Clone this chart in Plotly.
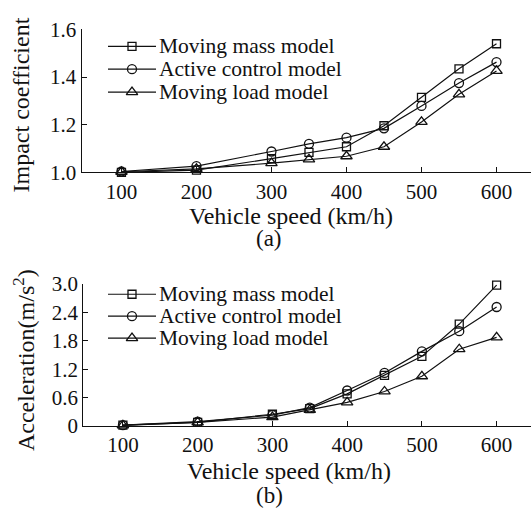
import plotly.graph_objects as go

W, H = 531, 516

# ---- data -------------------------------------------------------------
speed = [100, 200, 300, 350, 400, 450, 500, 550, 600]

impact_mass = [1.000, 1.010, 1.058, 1.084, 1.108, 1.196, 1.315, 1.435, 1.540]
impact_active = [1.004, 1.027, 1.088, 1.120, 1.146, 1.185, 1.279, 1.375, 1.463]
impact_load = [1.003, 1.015, 1.039, 1.055, 1.068, 1.108, 1.212, 1.328, 1.426]

accel_mass = [0.02, 0.08, 0.25, 0.37, 0.68, 1.07, 1.47, 2.15, 2.97]
accel_active = [0.02, 0.095, 0.23, 0.39, 0.75, 1.12, 1.575, 2.00, 2.51]
accel_load = [0.015, 0.08, 0.19, 0.34, 0.50, 0.73, 1.05, 1.62, 1.87]

series_names = ["Moving mass model", "Active control model", "Moving load model"]
symbols = ["square-open", "circle-open", "triangle-up-open"]
sizes = [8, 9, 10]

x_ticks = [100, 200, 300, 400, 500, 600]
impact_ticks = [1.0, 1.2, 1.4, 1.6]
impact_ticklabels = ["1.0", "1.2", "1.4", "1.6"]
accel_ticks = [0, 0.6, 1.2, 1.8, 2.4, 3.0]
accel_ticklabels = ["0", "0.6", "1.2", "1.8", "2.4", "3.0"]

FONT = "Liberation Serif"
INK = "#111111"


def px_x(p):
    return p / W


def px_y(p):
    return 1 - p / H


fig = go.Figure()

panels = [
    ("x", "y", [impact_mass, impact_active, impact_load]),
    ("x2", "y2", [accel_mass, accel_active, accel_load]),
]
for xa, ya, group in panels:
    for vals, name, sym, sz in zip(group, series_names, symbols, sizes):
        fig.add_trace(go.Scatter(
            x=speed, y=vals, name=name, xaxis=xa, yaxis=ya,
            mode="lines+markers", showlegend=False, cliponaxis=False,
            line=dict(color=INK, width=1.2),
            marker=dict(symbol=sym, size=sz, color=INK,
                        line=dict(color=INK, width=1.3)),
        ))

# legend keys, drawn on a full-page pixel-space axis pair
legend_rows = [[36, 60, 84], [296, 319, 342]]
for rows in legend_rows:
    for yy, name, sym, sz in zip(rows, series_names, symbols, sizes):
        fig.add_trace(go.Scatter(
            x=[108, 156], y=[yy, yy], xaxis="x3", yaxis="y3", mode="lines",
            showlegend=False, hoverinfo="skip",
            line=dict(color=INK, width=1.2),
        ))
        fig.add_trace(go.Scatter(
            x=[132], y=[yy], xaxis="x3", yaxis="y3", mode="markers",
            showlegend=False, hoverinfo="skip",
            marker=dict(symbol=sym, size=sz, color=INK,
                        line=dict(color=INK, width=1.3)),
        ))
        fig.add_annotation(
            x=px_x(157), y=px_y(yy), xref="paper", yref="paper",
            text=name, showarrow=False, xanchor="left", yanchor="middle",
            font=dict(family=FONT, size=21.5, color=INK),
        )

axis_common = dict(
    showline=True, linecolor=INK, linewidth=1.3, showgrid=False,
    zeroline=False, ticks="inside", ticklen=5, tickwidth=1.2, tickcolor=INK,
    tickfont=dict(family=FONT, size=21, color=INK),
)

fig.update_layout(
    width=W, height=H, margin=dict(l=0, r=0, t=0, b=0),
    paper_bgcolor="white", plot_bgcolor="rgba(0,0,0,0)", showlegend=False,
    font=dict(family=FONT, color=INK),
    xaxis=dict(domain=[px_x(81.7), 1], range=[47, 646], anchor="y",
               tickvals=x_ticks, **axis_common),
    yaxis=dict(domain=[px_y(168.3), px_y(18.3)], range=[1.0, 1.6],
               anchor="x", tickvals=impact_ticks,
               ticktext=impact_ticklabels, **axis_common),
    xaxis2=dict(domain=[px_x(83.3), 1], range=[47, 646], anchor="y2",
                tickvals=x_ticks, **axis_common),
    yaxis2=dict(domain=[px_y(434.3), px_y(285)], range=[0, 3.0],
                anchor="x2", tickvals=accel_ticks,
                ticktext=accel_ticklabels, **axis_common),
    xaxis3=dict(domain=[0, 1], range=[0, W], visible=False, anchor="y3"),
    yaxis3=dict(domain=[0, 1], range=[H, 0], visible=False, anchor="x3"),
)

# axis titles and panel captions
texts = [
    ("Vehicle speed (km/h)", 291, 214, 0, 24),
    ("(a)", 269, 238, 0, 23),
    ("Vehicle speed (km/h)", 289, 481, 0, 24),
    ("(b)", 269, 507, 0, 23),
    ("Impact coefficient", 21, 98, -90, 24),
    ("Acceleration(m/s<sup>2</sup>)", 24, 365, -90, 24),
]
for txt, tx, ty, ang, fs in texts:
    fig.add_annotation(
        x=px_x(tx), y=px_y(ty), xref="paper", yref="paper", text=txt,
        showarrow=False, textangle=ang, xanchor="center", yanchor="middle",
        font=dict(family=FONT, size=fs, color=INK),
    )

fig.write_html("out.html")
